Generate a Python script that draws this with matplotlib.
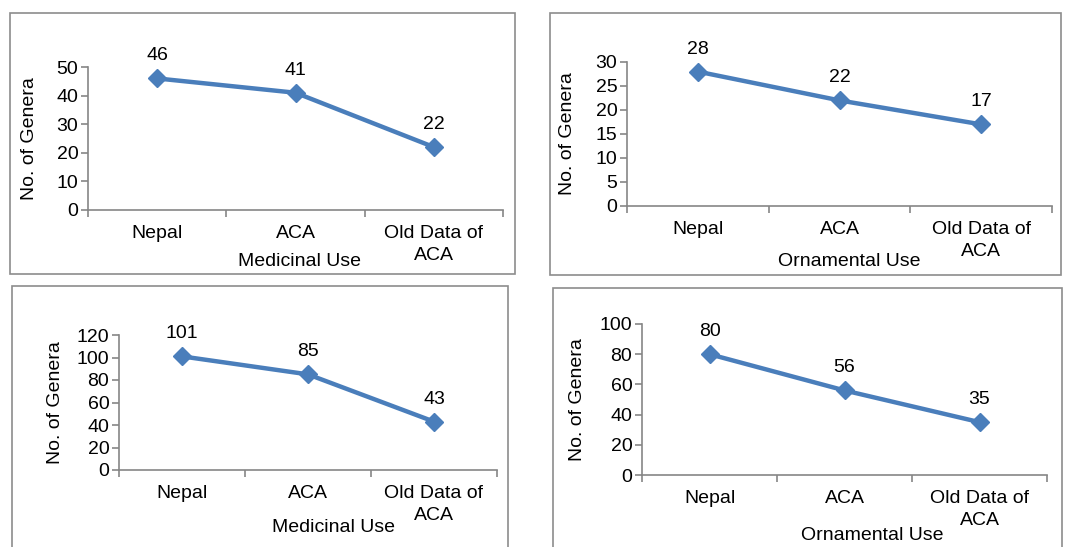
import matplotlib
matplotlib.use("Agg")
import matplotlib.pyplot as plt
from matplotlib.patches import Rectangle
from matplotlib.ticker import FixedLocator, NullFormatter

plt.rcParams['font.family'] = ['Liberation Sans', 'DejaVu Sans']

categories = ["Nepal", "ACA", "Old Data of\nACA"]
medicinal_top = [46, 41, 22]
ornamental_top = [28, 22, 17]
medicinal_bottom = [101, 85, 43]
ornamental_bottom = [80, 56, 35]
titles = ["Medicinal Use", "Ornamental Use", "Medicinal Use", "Ornamental Use"]
ylabel = "No. of Genera"

W, H = 1071, 547
fig = plt.figure(figsize=(W / 100, H / 100), dpi=100)

LINE = "#4A7EBB"
GREY = "#868686"
FS = 14

def px_rect(x0, y0, x1, y1):
    return [x0 / W, 1 - y1 / H, (x1 - x0) / W, (y1 - y0) / H]

# panel borders (pixel boxes)
borders = [(10, 13, 515, 274), (550, 13, 1061, 275), (12, 286, 508, 560), (553, 288, 1062, 560)]
for (x0, y0, x1, y1) in borders:
    fig.patches.append(Rectangle((x0 / W, 1 - y1 / H), (x1 - x0) / W, (y1 - y0) / H,
                                 transform=fig.transFigure, fill=False,
                                 edgecolor="#8C8C8C", linewidth=1.2))

panels = [
    dict(data=medicinal_top, box=(88, 67, 503, 210), ymax=50, step=10,
         ylab_x=30, title_xy=(300, 261)),
    dict(data=ornamental_top, box=(627, 62, 1052, 206), ymax=30, step=5,
         ylab_x=568, title_xy=(849, 262)),
    dict(data=medicinal_bottom, box=(119, 335, 497, 470), ymax=120, step=20,
         ylab_x=55, title_xy=(333, 527)),
    dict(data=ornamental_bottom, box=(642, 324, 1047, 475), ymax=100, step=20,
         ylab_x=577, title_xy=(872, 535)),
]

for p, title in zip(panels, titles):
    x0, y0, x1, y1 = p["box"]
    ax = fig.add_axes(px_rect(x0, y0, x1, y1))
    xs = list(range(len(categories)))
    ax.plot(xs, p["data"], color=LINE, linewidth=3.2, marker="D",
            markersize=9.5, markerfacecolor=LINE, markeredgecolor=LINE,
            clip_on=False, zorder=3)
    for xv, yv in zip(xs, p["data"]):
        ax.annotate(str(yv), (xv, yv), xytext=(0, 14), textcoords="offset pixels",
                    ha="center", va="bottom", fontsize=FS)
    ax.set_xlim(-0.5, len(categories) - 0.5)
    ax.set_ylim(0, p["ymax"])
    ax.set_yticks(range(0, p["ymax"] + 1, p["step"]))
    ax.set_xticks(xs)
    ax.set_xticklabels(categories, fontsize=FS, linespacing=1.4)
    ax.xaxis.set_minor_locator(FixedLocator([-0.5, 0.5, 1.5, 2.5]))
    ax.xaxis.set_minor_formatter(NullFormatter())
    ax.tick_params(axis="x", which="major", length=0, pad=11)
    ax.tick_params(axis="x", which="minor", length=5, color=GREY, width=1.2, direction="out")
    ax.tick_params(axis="y", length=5, color=GREY, width=1.2, direction="out",
                   labelsize=FS, pad=2)
    for s in ["top", "right"]:
        ax.spines[s].set_visible(False)
    for s in ["left", "bottom"]:
        ax.spines[s].set_color(GREY)
        ax.spines[s].set_linewidth(1.2)
    ax.patch.set_alpha(0)
    # y label
    fig.text(p["ylab_x"] / W, 1 - ((y0 + y1) / 2) / H, ylabel, rotation=90,
             ha="center", va="center", fontsize=FS)
    tx, ty = p["title_xy"]
    fig.text(tx / W, 1 - ty / H, title, ha="center", va="center", fontsize=FS)

fig.savefig("out.png", dpi=100)
